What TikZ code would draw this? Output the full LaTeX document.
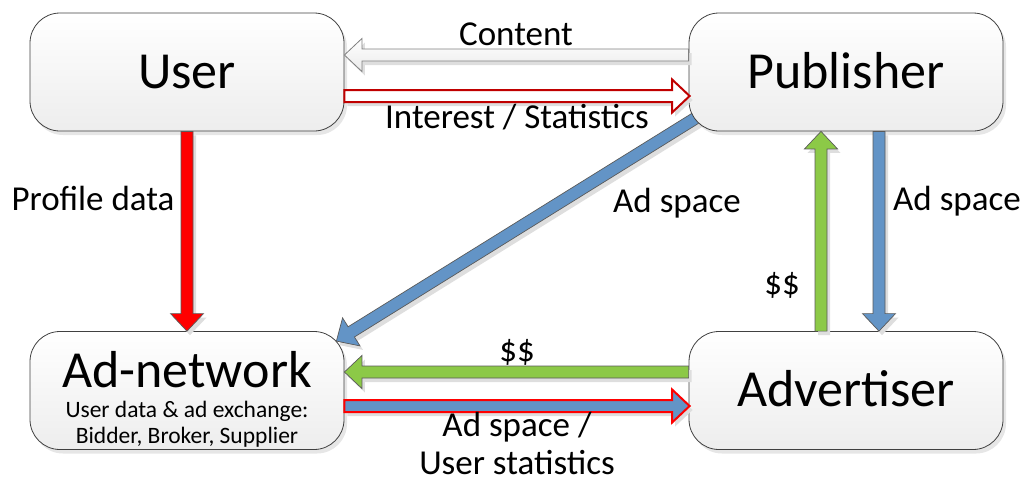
\documentclass[tikz,border=0pt]{standalone}
\usepackage{fontspec}
\setmainfont{Carlito}
\usetikzlibrary{calc,shadows}
\pgfdeclarelayer{back}
\pgfsetlayers{back,main}

\definecolor{boxedge}{HTML}{404040}
\definecolor{adblue}{HTML}{6394C6}
\definecolor{adgreen}{HTML}{8CC947}
\definecolor{brightred}{HTML}{FF0000}
\definecolor{darkred}{HTML}{C00000}
\definecolor{arrowedge}{HTML}{5A5A5A}

% outline of a block arrow from #1 to the tip #2
\newcommand\blockoutline[2]{%
  ($(#1)!6pt!90:(#2)$) -- ($(ba-h)!6pt!90:(#2)$) -- ($(ba-h)!16.5pt!90:(#2)$)
  -- (#2) -- ($(ba-h)!16.5pt!-90:(#2)$) -- ($(ba-h)!6pt!-90:(#2)$)
  -- ($(#1)!6pt!-90:(#2)$) -- cycle}

% block arrow with a soft shadow: \blockarrow[style]{from}{tip}
\newcommand\blockarrow[3][]{%
  \coordinate (ba-h) at ($(#3)!17.5pt!(#2)$);
  \begin{scope}[transform canvas={shift={(3pt,-4pt)}}]
    \fill[black!13] \blockoutline{#2}{#3};
  \end{scope}
  \draw[line join=miter,#1] \blockoutline{#2}{#3};
}

\tikzset{
  box/.style={draw=boxedge, line width=0.8pt, rounded corners=30pt,
    minimum width=314pt, minimum height=118pt,
    top color=white, bottom color=black!7,
    drop shadow={shadow xshift=3pt, shadow yshift=-4pt, fill=black!18, opacity=0.55},
    font=\fontsize{52}{60}\selectfont, text height=32pt, text depth=0pt},
  boxtitle/.style={anchor=base, font=\fontsize{52}{60}\selectfont, inner sep=0pt},
  boxnote/.style={anchor=base, font=\fontsize{23.5}{28}\selectfont, inner sep=0pt},
  flowlabel/.style={anchor=base, font=\fontsize{35}{42}\selectfont, inner sep=0pt},
  whitearrow/.style={draw=black!50, line width=0.8pt, top color=white, bottom color=black!8},
  redframe/.style={draw=darkred, line width=2pt, fill=white},
  redarrow/.style={draw=arrowedge, line width=0.7pt, fill=brightred},
  bluearrow/.style={draw=arrowedge, line width=0.7pt, fill=adblue},
  greenarrow/.style={draw=arrowedge, line width=0.7pt, fill=adgreen},
  blueredarrow/.style={draw=brightred, line width=2pt, fill=adblue},
}

\begin{document}
\begin{tikzpicture}[x=1pt,y=-1pt]
\useasboundingbox (0,0) rectangle (1024,483);

% parties
\node[box] (user) at (187,72) {User};
\node[box] (pub) at (846,72) {Publisher};
\node[box] (adnet) at (187,390.5) {};
\node[box] (adv) at (846,390.5) {Advertiser};

\node[boxtitle] (adnettitle) at (187,387) {Ad-network};
\node[boxnote] (adnetnote1) at (187,417) {User data \& ad exchange:};
\node[boxnote] (adnetnote2) at (187,443) {Bidder, Broker, Supplier};

% connector end points
\coordinate (content-s) at ($(pub.west)+(0,-17)$);
\coordinate (content-t) at ($(user.east)+(0,-17)$);
\coordinate (interest-s) at ($(user.east)+(0,24)$);
\coordinate (interest-t) at ($(pub.west)+(1,24)$);
\coordinate (diag-s) at ($(pub.south west)+(21,-22)$);
\coordinate (diag-t) at ($(adnet.north east)+(-8,10)$);
\coordinate (pay-s) at ($(adv.north)+(-25,0)$);
\coordinate (pay-t) at ($(pub.south)+(-25,0)$);
\coordinate (space-s) at ($(pub.south)+(33,0)$);
\coordinate (space-t) at ($(adv.north)+(33,0)$);
\coordinate (fee-s) at ($(adv.west)+(0,-18.5)$);
\coordinate (fee-t) at ($(adnet.east)+(0,-18.5)$);
\coordinate (stats-s) at ($(adnet.east)+(0,15.5)$);
\coordinate (stats-t) at ($(adv.west)+(1,15.5)$);

% ad space from the publisher to the ad-network, behind the boxes
\begin{pgfonlayer}{back}
  \blockarrow[bluearrow]{diag-s}{diag-t}
\end{pgfonlayer}

% flows
\blockarrow[whitearrow]{content-s}{content-t}
\blockarrow[redframe]{interest-s}{interest-t}
\blockarrow[redarrow]{user.south}{adnet.north}
\blockarrow[greenarrow]{pay-s}{pay-t}
\blockarrow[bluearrow]{space-s}{space-t}
\blockarrow[greenarrow]{fee-s}{fee-t}
\blockarrow[blueredarrow]{stats-s}{stats-t}

% flow labels
\node[flowlabel] (l-content) at (516,45) {Content};
\node[flowlabel] (l-interest) at (517,128) {Interest / Statistics};
\node[flowlabel] (l-profile) at (93,210) {Profile data};
\node[flowlabel] (l-diag) at (677,212) {Ad space};
\node[flowlabel] (l-space) at (957,210) {Ad space};
\node[flowlabel] (l-pay) at (782,294) {\$\$};
\node[flowlabel] (l-fee) at (517,361) {\$\$};
\node[flowlabel] (l-stats1) at (517,436) {Ad space /};
\node[flowlabel] (l-stats2) at (517,474) {User statistics};
\end{tikzpicture}
\end{document}
